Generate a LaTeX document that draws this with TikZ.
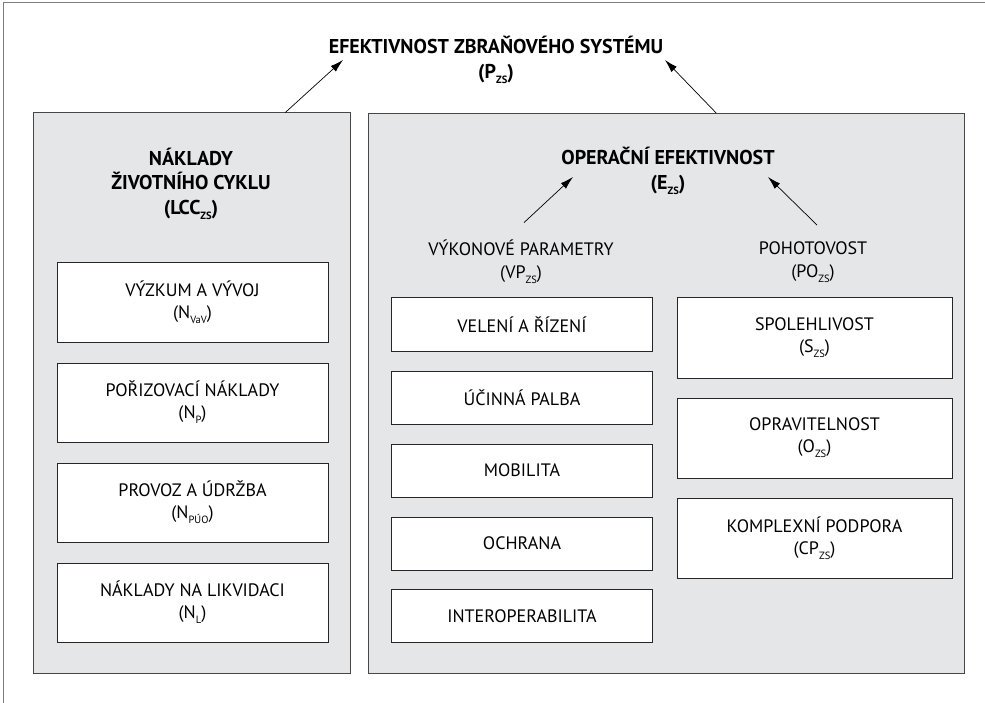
\documentclass[tikz,border=0pt]{standalone}
\usepackage{fontspec}
\setmainfont{PT Sans}
\usetikzlibrary{calc,arrows.meta,positioning}
\definecolor{panelgray}{RGB}{229,230,232}
\definecolor{framegray}{RGB}{125,125,125}
\newcommand{\sbs}[1]{\raisebox{-0.55ex}{\fontsize{10.5}{10.5}\selectfont #1}}

\begin{document}
\begin{tikzpicture}[x=1pt,y=-1pt,
    panel/.style={draw=black!72,fill=panelgray,line width=1pt},
    item/.style={draw=black!85,fill=white,line width=1pt,align=center,font=\fontsize{18}{22}\selectfont},
    head/.style={align=center,font=\bfseries\fontsize{20}{24.5}\selectfont},
    sub/.style={align=center,font=\fontsize{18}{23}\selectfont},
    arr/.style={-{Latex[length=13pt,width=7.5pt]},line width=0.7pt}]
                \useasboundingbox (0,0) rectangle (985,703);
                \draw[framegray,line width=1pt] (3,3) rectangle (1000,720);
                % two panels
                \node[panel,minimum width=317pt,minimum height=560pt] (lcc) at (191.5,393) {};
                \node[panel,minimum width=596pt,minimum height=560pt] (ops) at (666,393.5) {};
                % titles
                \node[head] (pzs) at (496,60) {EFEKTIVNOST ZBRAŇOVÉHO SYSTÉMU\\(P\sbs{ZS})};
                \node[head] (lcct) at (191,184) {NÁKLADY\\ŽIVOTNÍHO CYKLU\\(LCC\sbs{ZS})};
                \node[head] (ezs) at (668,171) {OPERAČNÍ EFEKTIVNOST\\(E\sbs{ZS})};
                \node[sub] (vp) at (521,262) {VÝKONOVÉ PARAMETRY\\(VP\sbs{ZS})};
                \node[sub] (po) at (813,262) {POHOTOVOST\\(PO\sbs{ZS})};
                % arrow tips
                \coordinate (t1) at (343,60);
                \coordinate (t2) at (665,60);
                \coordinate (t3) at (573,177);
                \coordinate (t4) at (768,177);
                \draw[arr] ($(lcc.north west)!0.795!(lcc.north east)$) -- (t1);
                \draw[arr] ($(ops.north west)!0.584!(ops.north east)$) -- (t2);
                \draw[arr] ($(vp.north)+(3,-14)$) -- (t3);
                \draw[arr] ($(po.north)+(4,-13)$) -- (t4);
                % life cycle costs
                \foreach \n/\y/\t in {vav/302.5/{VÝZKUM A VÝVOJ\\(N\sbs{VaV})},
                    np/402.5/{POŘIZOVACÍ NÁKLADY\\(N\sbs{P})},
                    npuo/502.5/{PROVOZ A ÚDRŽBA\\(N\sbs{PÚO})},
                    nl/602.5/{NÁKLADY NA LIKVIDACI\\(N\sbs{L})}}
                    \node[item,minimum width=271pt,minimum height=79pt] (\n) at (192.5,\y) {\t};
                % performance parameters
                \foreach \n/\y/\t in {vel/324.5/{VELENÍ A ŘÍZENÍ},
                    palba/397.5/{ÚČINNÁ PALBA},
                    mob/470.5/{MOBILITA},
                    och/543.5/{OCHRANA},
                    inter/616/{INTEROPERABILITA}}
                    \node[item,minimum width=261pt,minimum height=53pt] (\n) at (522,\y) {\t};
                % readiness
                \foreach \n/\y/\t in {szs/338/{SPOLEHLIVOST\\(S\sbs{ZS})},
                    ozs/438/{OPRAVITELNOST\\(O\sbs{ZS})},
                    cpzs/538/{KOMPLEXNÍ PODPORA\\(CP\sbs{ZS})}}
                    \node[item,minimum width=275pt,minimum height=80pt] (\n) at (814.5,\y) {\t};
            \end{tikzpicture}
\end{document}
